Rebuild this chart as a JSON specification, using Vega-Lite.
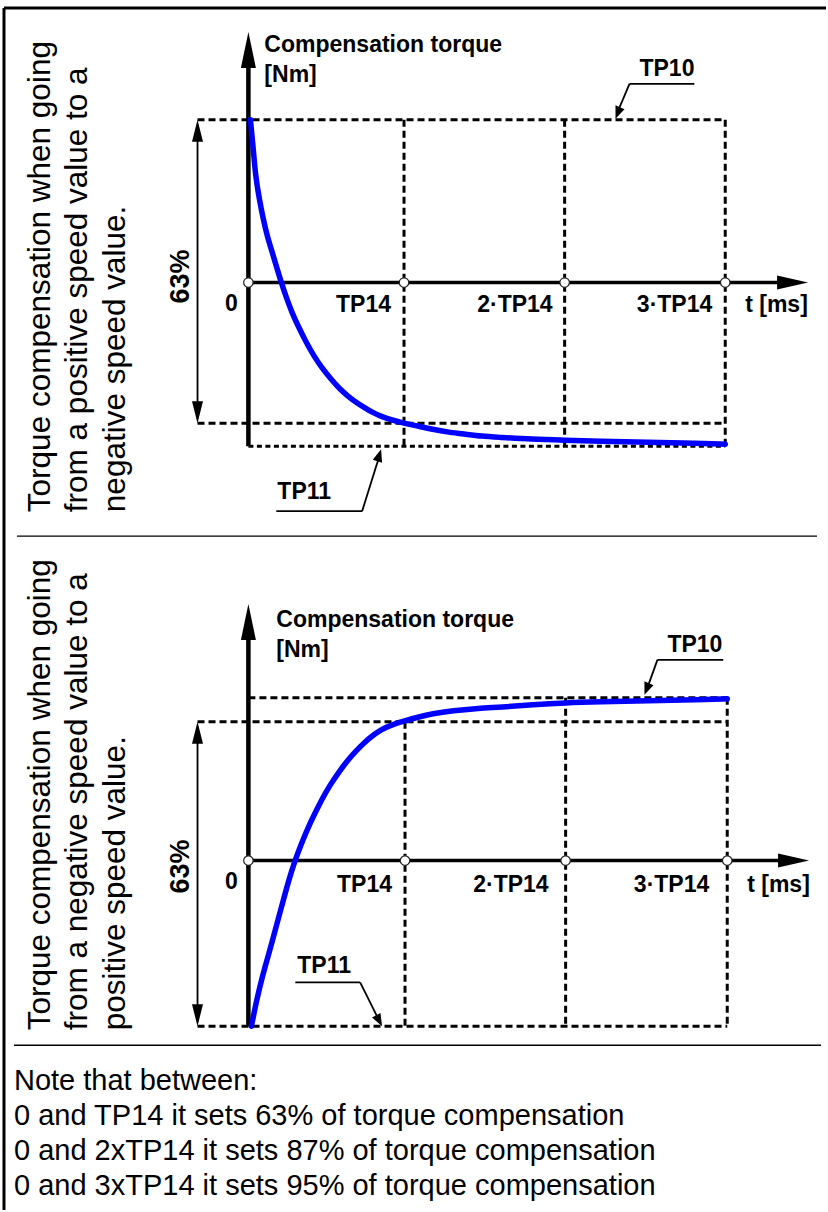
{
  "$schema": "https://vega.github.io/schema/vega-lite/v6.json",
  "width": 828,
  "height": 1212,
  "autosize": {"type": "fit", "contains": "padding"},
  "padding": 0,
  "background": "white",
  "config": {"view": {"stroke": null}},
  "datasets": {
    "frame": [
      {"x": 4, "y": 8, "x2": 828, "y2": 8},
      {"x": 4, "y": 8, "x2": 4, "y2": 1212}
    ],
    "sep": [
      {"x": 17, "y": 537, "x2": 819, "y2": 537},
      {"x": 14, "y": 1047, "x2": 823, "y2": 1047}
    ],
    "dash": [
      {"x": 198, "y": 120, "x2": 727, "y2": 120},
      {"x": 405, "y": 120, "x2": 405, "y2": 447},
      {"x": 566, "y": 120, "x2": 566, "y2": 447},
      {"x": 727, "y": 120, "x2": 727, "y2": 447},
      {"x": 198, "y": 424, "x2": 727, "y2": 424},
      {"x": 249, "y": 699, "x2": 729, "y2": 699},
      {"x": 198, "y": 723, "x2": 729, "y2": 723},
      {"x": 406, "y": 723, "x2": 406, "y2": 1028},
      {"x": 567, "y": 699, "x2": 567, "y2": 1028},
      {"x": 729, "y": 699, "x2": 729, "y2": 1028},
      {"x": 198, "y": 1028, "x2": 729, "y2": 1028}
    ],
    "dots": [
      {"x": 249, "y": 447, "x2": 727, "y2": 447}
    ],
    "yaxis": [
      {"x": 249, "y": 62, "x2": 249, "y2": 447},
      {"x": 249, "y": 636, "x2": 249, "y2": 1028}
    ],
    "xaxis": [
      {"x": 249, "y": 283, "x2": 785, "y2": 283},
      {"x": 249, "y": 862, "x2": 785, "y2": 862}
    ],
    "thin": [
      {"x": 198, "y": 125, "x2": 198, "y2": 419},
      {"x": 198, "y": 728, "x2": 198, "y2": 1023},
      {"x": 631, "y": 84, "x2": 696, "y2": 84},
      {"x": 631, "y": 84, "x2": 620, "y2": 110},
      {"x": 659, "y": 661, "x2": 725, "y2": 661},
      {"x": 659, "y": 661, "x2": 650, "y2": 686},
      {"x": 277, "y": 512, "x2": 363, "y2": 512},
      {"x": 363, "y": 512, "x2": 379, "y2": 461},
      {"x": 296, "y": 984, "x2": 361, "y2": 984},
      {"x": 361, "y": 984, "x2": 378, "y2": 1018}
    ],
    "curve": [
      {"p": "a", "x": 251, "y": 120}, {"p": "a", "x": 254, "y": 150}, {"p": "a", "x": 256, "y": 175},
      {"p": "a", "x": 260, "y": 200}, {"p": "a", "x": 264, "y": 220}, {"p": "a", "x": 268, "y": 237},
      {"p": "a", "x": 273, "y": 253}, {"p": "a", "x": 278, "y": 270}, {"p": "a", "x": 282, "y": 283},
      {"p": "a", "x": 287, "y": 298}, {"p": "a", "x": 293, "y": 314}, {"p": "a", "x": 300, "y": 329},
      {"p": "a", "x": 307, "y": 343}, {"p": "a", "x": 315, "y": 357}, {"p": "a", "x": 323, "y": 369},
      {"p": "a", "x": 332, "y": 380}, {"p": "a", "x": 340, "y": 389}, {"p": "a", "x": 349, "y": 397},
      {"p": "a", "x": 357, "y": 403}, {"p": "a", "x": 365, "y": 408}, {"p": "a", "x": 373, "y": 413},
      {"p": "a", "x": 382, "y": 417}, {"p": "a", "x": 390, "y": 420}, {"p": "a", "x": 405, "y": 424},
      {"p": "a", "x": 420, "y": 427}, {"p": "a", "x": 433, "y": 430}, {"p": "a", "x": 450, "y": 433},
      {"p": "a", "x": 467, "y": 435}, {"p": "a", "x": 483, "y": 437}, {"p": "a", "x": 500, "y": 438},
      {"p": "a", "x": 533, "y": 440}, {"p": "a", "x": 566, "y": 441}, {"p": "a", "x": 600, "y": 442},
      {"p": "a", "x": 650, "y": 443}, {"p": "a", "x": 700, "y": 444}, {"p": "a", "x": 727, "y": 445},
      {"p": "b", "x": 252, "y": 1028}, {"p": "b", "x": 256, "y": 1008}, {"p": "b", "x": 260, "y": 990},
      {"p": "b", "x": 266, "y": 967}, {"p": "b", "x": 273, "y": 943}, {"p": "b", "x": 279, "y": 920},
      {"p": "b", "x": 285, "y": 898}, {"p": "b", "x": 290, "y": 880}, {"p": "b", "x": 295, "y": 864},
      {"p": "b", "x": 301, "y": 848}, {"p": "b", "x": 307, "y": 833}, {"p": "b", "x": 315, "y": 816},
      {"p": "b", "x": 323, "y": 800}, {"p": "b", "x": 331, "y": 786}, {"p": "b", "x": 340, "y": 773},
      {"p": "b", "x": 348, "y": 762}, {"p": "b", "x": 357, "y": 752}, {"p": "b", "x": 365, "y": 744},
      {"p": "b", "x": 373, "y": 737}, {"p": "b", "x": 382, "y": 731}, {"p": "b", "x": 390, "y": 727},
      {"p": "b", "x": 406, "y": 722}, {"p": "b", "x": 420, "y": 718}, {"p": "b", "x": 433, "y": 715},
      {"p": "b", "x": 453, "y": 712}, {"p": "b", "x": 483, "y": 709}, {"p": "b", "x": 507, "y": 708},
      {"p": "b", "x": 533, "y": 706}, {"p": "b", "x": 567, "y": 704}, {"p": "b", "x": 600, "y": 703},
      {"p": "b", "x": 650, "y": 702}, {"p": "b", "x": 700, "y": 701}, {"p": "b", "x": 729, "y": 700}
    ],
    "nodes": [
      {"x": 249, "y": 283}, {"x": 405, "y": 283}, {"x": 566, "y": 283}, {"x": 727, "y": 283},
      {"x": 249, "y": 862}, {"x": 406, "y": 862}, {"x": 567, "y": 862}, {"x": 729, "y": 862}
    ],
    "heads": [
      {"k": "axisUp", "x": 249, "y": 32},
      {"k": "axisUp", "x": 249, "y": 605},
      {"k": "axisRight", "x": 810, "y": 283},
      {"k": "axisRight", "x": 811, "y": 862},
      {"k": "dimUp", "x": 198, "y": 120},
      {"k": "dimDown", "x": 198, "y": 424},
      {"k": "dimUp", "x": 198, "y": 723},
      {"k": "dimDown", "x": 198, "y": 1028},
      {"k": "downLeft", "x": 617, "y": 119},
      {"k": "downLeft", "x": 646, "y": 696},
      {"k": "upRight", "x": 382, "y": 450},
      {"k": "downRight", "x": 383, "y": 1028}
    ],
    "rot": [
      {"x": 50, "y": 513, "t": "Torque compensation when going"},
      {"x": 87.5, "y": 513, "t": "from a positive speed value to a"},
      {"x": 125, "y": 513, "t": "negative speed value."},
      {"x": 50, "y": 1032, "t": "Torque compensation when going"},
      {"x": 87.5, "y": 1032, "t": "from a negative speed value to a"},
      {"x": 125, "y": 1032, "t": "positive speed value."}
    ],
    "pct": [
      {"x": 189, "y": 277, "t": "63%"},
      {"x": 189, "y": 868, "t": "63%"}
    ],
    "boldLeft": [
      {"x": 265, "y": 52, "t": "Compensation torque"},
      {"x": 265, "y": 82, "t": "[Nm]"},
      {"x": 641, "y": 76, "t": "TP10"},
      {"x": 278, "y": 500, "t": "TP11"},
      {"x": 747, "y": 313, "t": "t [ms]"},
      {"x": 277, "y": 628, "t": "Compensation torque"},
      {"x": 277, "y": 658, "t": "[Nm]"},
      {"x": 669, "y": 653, "t": "TP10"},
      {"x": 298, "y": 975, "t": "TP11"},
      {"x": 749, "y": 893, "t": "t [ms]"}
    ],
    "boldRight": [
      {"x": 392, "y": 313, "t": "TP14"},
      {"x": 554, "y": 313, "t": "2·TP14"},
      {"x": 714, "y": 313, "t": "3·TP14"},
      {"x": 393, "y": 893, "t": "TP14"},
      {"x": 550, "y": 893, "t": "2·TP14"},
      {"x": 711, "y": 893, "t": "3·TP14"}
    ],
    "boldCenter": [
      {"x": 232, "y": 312, "t": "0"},
      {"x": 232, "y": 890, "t": "0"}
    ],
    "note": [
      {"x": 14, "y": 1092, "t": "Note that between:"},
      {"x": 14, "y": 1127, "t": "0 and TP14 it sets 63% of torque compensation"},
      {"x": 14, "y": 1162, "t": "0 and 2xTP14 it sets 87% of torque compensation"},
      {"x": 14, "y": 1197, "t": "0 and 3xTP14 it sets 95% of torque compensation"}
    ]
  },
  "encoding": {
    "x": {"field": "x", "type": "quantitative", "scale": {"domain": [0, 828], "nice": false, "zero": false}, "axis": null},
    "y": {"field": "y", "type": "quantitative", "scale": {"domain": [0, 1212], "nice": false, "zero": false, "reverse": true}, "axis": null}
  },
  "layer": [
    {
      "data": {"name": "frame"},
      "mark": {"type": "rule", "color": "black", "strokeWidth": 3},
      "encoding": {"x2": {"field": "x2"}, "y2": {"field": "y2"}}
    },
    {
      "data": {"name": "sep"},
      "mark": {"type": "rule", "color": "black", "strokeWidth": 1.3},
      "encoding": {"x2": {"field": "x2"}, "y2": {"field": "y2"}}
    },
    {
      "data": {"name": "dash"},
      "mark": {"type": "rule", "color": "black", "strokeWidth": 3, "strokeDash": [7, 4]},
      "encoding": {"x2": {"field": "x2"}, "y2": {"field": "y2"}}
    },
    {
      "data": {"name": "dots"},
      "mark": {"type": "rule", "color": "black", "strokeWidth": 3, "strokeDash": [5, 3.5]},
      "encoding": {"x2": {"field": "x2"}, "y2": {"field": "y2"}}
    },
    {
      "data": {"name": "yaxis"},
      "mark": {"type": "rule", "color": "black", "strokeWidth": 4.5},
      "encoding": {"x2": {"field": "x2"}, "y2": {"field": "y2"}}
    },
    {
      "data": {"name": "xaxis"},
      "mark": {"type": "rule", "color": "black", "strokeWidth": 3.5},
      "encoding": {"x2": {"field": "x2"}, "y2": {"field": "y2"}}
    },
    {
      "data": {"name": "thin"},
      "mark": {"type": "rule", "color": "black", "strokeWidth": 1.8},
      "encoding": {"x2": {"field": "x2"}, "y2": {"field": "y2"}}
    },
    {
      "data": {"name": "curve"},
      "mark": {"type": "line", "color": "#0000ff", "strokeWidth": 5.5, "interpolate": "basis", "strokeCap": "round"},
      "encoding": {"detail": {"field": "p", "type": "nominal"}}
    },
    {
      "data": {"name": "nodes"},
      "mark": {"type": "point", "shape": "circle", "size": 90, "filled": true, "fill": "white", "stroke": "#222222", "strokeWidth": 1.2, "opacity": 1}
    },
    {
      "data": {"name": "heads"},
      "mark": {"type": "point", "filled": true, "color": "black", "size": 4, "opacity": 1, "strokeWidth": 0},
      "encoding": {
        "shape": {
          "field": "k",
          "type": "nominal",
          "legend": null,
          "scale": {
            "domain": ["axisUp", "axisRight", "dimUp", "dimDown", "downLeft", "upRight", "downRight"],
            "range": [
              "M0,0L7.5,36L-7.5,36Z",
              "M0,0L-31,-7L-31,7Z",
              "M0,0L5.5,22L-5.5,22Z",
              "M0,0L5.5,-22L-5.5,-22Z",
              "M0,0L9,-9.5L0,-13.5Z",
              "M0,0L1,13.5L-8.3,10.5Z",
              "M0,0L-1.6,-13.4L-10,-8.8Z"
            ]
          }
        }
      }
    },
    {
      "data": {"name": "rot"},
      "mark": {"type": "text", "angle": 270, "align": "left", "baseline": "alphabetic", "font": "Liberation Sans", "fontSize": 31.5, "color": "black"},
      "encoding": {"text": {"field": "t"}}
    },
    {
      "data": {"name": "pct"},
      "mark": {"type": "text", "angle": 270, "align": "center", "baseline": "alphabetic", "font": "Liberation Sans", "fontWeight": "bold", "fontSize": 27, "color": "black"},
      "encoding": {"text": {"field": "t"}}
    },
    {
      "data": {"name": "boldLeft"},
      "mark": {"type": "text", "align": "left", "baseline": "alphabetic", "font": "Liberation Sans", "fontWeight": "bold", "fontSize": 23, "color": "black"},
      "encoding": {"text": {"field": "t"}}
    },
    {
      "data": {"name": "boldRight"},
      "mark": {"type": "text", "align": "right", "baseline": "alphabetic", "font": "Liberation Sans", "fontWeight": "bold", "fontSize": 23, "color": "black"},
      "encoding": {"text": {"field": "t"}}
    },
    {
      "data": {"name": "boldCenter"},
      "mark": {"type": "text", "align": "center", "baseline": "alphabetic", "font": "Liberation Sans", "fontWeight": "bold", "fontSize": 23, "color": "black"},
      "encoding": {"text": {"field": "t"}}
    },
    {
      "data": {"name": "note"},
      "mark": {"type": "text", "align": "left", "baseline": "alphabetic", "font": "Liberation Sans", "fontSize": 29, "color": "black"},
      "encoding": {"text": {"field": "t"}}
    }
  ]
}
